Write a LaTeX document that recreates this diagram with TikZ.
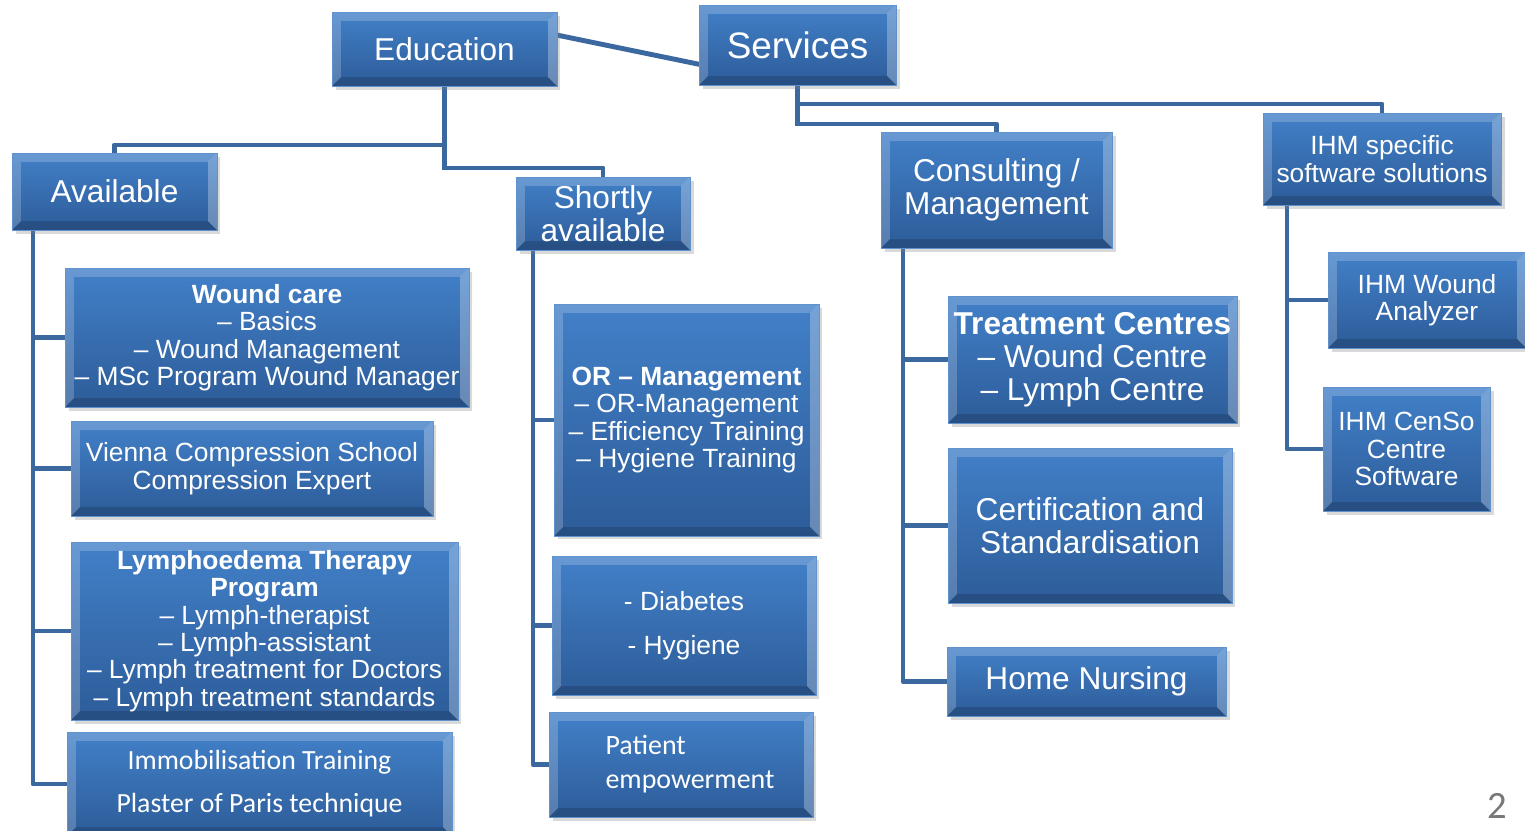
\documentclass[tikz,border=0pt]{standalone}
\usepackage{fontspec}
\setmainfont{Liberation Sans}
\newfontfamily\calibri{Carlito}
\usetikzlibrary{%
   backgrounds,%
   shadows}
\definecolor{boxtop}{RGB}{66,128,200}
\definecolor{boxbot}{RGB}{45,92,153}
\definecolor{boxedge}{RGB}{96,146,206}
\definecolor{linkblue}{RGB}{60,104,160}
\definecolor{pagegray}{RGB}{120,120,120}

\begin{document}
\begin{tikzpicture}
[x=0.02cm, y=-0.02cm,
 bevel/.style={path picture={
   \fill[white,opacity=.2] (path picture bounding box.north west) -- (path picture bounding box.north east)
     -- ([shift={(-5pt,-5pt)}]path picture bounding box.north east)
     -- ([shift={(5pt,-5pt)}]path picture bounding box.north west)
     -- ([shift={(5pt,5pt)}]path picture bounding box.south west)
     -- (path picture bounding box.south west) -- cycle;
   \fill[white,opacity=.28] (path picture bounding box.north east) -- (path picture bounding box.south east)
     -- ([shift={(-5pt,5pt)}]path picture bounding box.south east)
     -- ([shift={(-5pt,-5pt)}]path picture bounding box.north east) -- cycle;
   \fill[black,opacity=.15] (path picture bounding box.south west) -- (path picture bounding box.south east)
     -- ([shift={(-5pt,5pt)}]path picture bounding box.south east)
     -- ([shift={(5pt,5pt)}]path picture bounding box.south west) -- cycle;}},
 typeBox/.style={rectangle,draw=boxedge,line width=.4pt,top color=boxtop,bottom color=boxbot,
   text=white,align=center,inner sep=0pt,
   drop shadow={opacity=.3,shadow xshift=2pt,shadow yshift=-2pt},bevel},
 typeTop/.style={typeBox,font=\fontsize{21pt}{25pt}\selectfont},
 typeHead/.style={typeBox,font=\fontsize{18pt}{18.7pt}\selectfont},
 typeItem/.style={typeBox,font=\fontsize{15pt}{15.6pt}\selectfont},
 typeCal/.style={typeBox,font=\calibri\fontsize{15.8pt}{24.4pt}\selectfont},
 link/.style={line width=2.8pt,draw=linkblue,line join=round,line cap=rect},
 hv link/.style={link, to path={-| (\tikztotarget)}},
 vh link/.style={link, to path={|- (\tikztotarget)}}]
\useasboundingbox (0,0) rectangle (1525,831);
% top level
\node[typeHead, minimum width=4.5cm,  minimum height=1.48cm] (edu)      at ( 444.5, 49  ) {Education};
\node[typeTop,  minimum width=3.94cm, minimum height=1.6cm ] (serv)     at ( 797.5, 45  ) {Services};
% education
\node[typeHead, minimum width=4.1cm,  minimum height=1.54cm] (avail)    at ( 114.5,191.5) {Available};
\node[typeHead, minimum width=3.48cm, minimum height=1.46cm] (short)    at ( 603  ,213.5) {Shortly\\available};
\node[typeItem, minimum width=8.08cm, minimum height=2.78cm] (wound)    at ( 267  ,337.5) {\textbf{Wound care}\\– Basics\\– Wound Management\\– MSc Program Wound Manager};
\node[typeItem, minimum width=7.24cm, minimum height=1.9cm ] (vienna)   at ( 252  ,468.5) {Vienna Compression School\\Compression Expert};
\node[typeItem, minimum width=7.74cm, minimum height=3.56cm] (lymph)    at ( 264.5,631  ) {\textbf{Lymphoedema Therapy}\\\textbf{Program}\\– Lymph-therapist\\– Lymph-assistant\\– Lymph treatment for Doctors\\– Lymph treatment standards};
\node[typeCal,  minimum width=7.7cm,  minimum height=2.08cm] (immob)    at ( 259.5,784  ) {Immobilisation Training\\Plaster of Paris technique};
\node[typeItem, minimum width=5.3cm,  minimum height=4.64cm] (ormgmt)   at ( 686.5,420  ) {\textbf{OR – Management}\\– OR-Management\\– Efficiency Training\\– Hygiene Training};
\node[typeItem, font=\fontsize{15pt}{25pt}\selectfont,
                minimum width=5.28cm, minimum height=2.78cm] (diab)     at ( 684  ,625.5) {- Diabetes\\- Hygiene};
\node[typeCal,  font=\calibri\fontsize{15.9pt}{19.3pt}\selectfont, align=left,
                minimum width=5.28cm, minimum height=2.1cm ] (patient)  at ( 681  ,764.5) {\hspace*{0.36cm}Patient\\\hspace*{0.36cm}empowerment};
% services
\node[typeHead, minimum width=4.62cm, minimum height=2.32cm] (consult)  at ( 996.5,190  ) {Consulting /\\Management};
\node[typeHead, minimum width=5.78cm, minimum height=2.54cm] (treat)    at (1092.5,359.5) {\textbf{Treatment Centres}\\– Wound Centre\\– Lymph Centre};
\node[typeHead, minimum width=5.68cm, minimum height=3.1cm ] (cert)     at (1090  ,525.5) {Certification and\\Standardisation};
\node[typeHead, minimum width=5.58cm, minimum height=1.38cm] (home)     at (1086.5,681.5) {Home Nursing};
\node[typeItem, minimum width=4.76cm, minimum height=1.84cm] (ihm)      at (1382  ,159  ) {IHM specific\\software solutions};
\node[typeItem, minimum width=3.96cm, minimum height=1.92cm] (analyzer) at (1427  ,300  ) {IHM Wound\\Analyzer};
\node[typeItem, minimum width=3.34cm, minimum height=2.48cm] (censo)    at (1406.5,449  ) {IHM CenSo\\Centre\\Software};
\node[text=pagegray, font=\calibri\fontsize{22pt}{24pt}\selectfont] (pagenum) at (1497,806) {2};
\coordinate (eduHop1)    at ( 444.5,145);
\coordinate (eduHop2)    at ( 444.5,168);
\coordinate (servHop1)   at ( 797.5,104);
\coordinate (servHop2)   at ( 797.5,124);
\coordinate (availStart) at (  33  ,230);
\coordinate (shortStart) at ( 533  ,250);
\coordinate (consStart)  at ( 903  ,248);
\coordinate (ihmStart)   at (1287  ,205);
\begin{scope}[on background layer]
\path (edu.7)        edge[link]    (serv.191)
      (edu.south)    edge[vh link] (eduHop2)
      (eduHop1)      edge[hv link] (avail.north)
      (eduHop2)      edge[hv link] (short.north)
      (serv.south)   edge[vh link] (servHop2)
      (servHop1)     edge[hv link] (ihm.north)
      (servHop2)     edge[hv link] (consult.north)
      (availStart)   edge[vh link] (wound.west)
                     edge[vh link] (vienna.west)
                     edge[vh link] (lymph.west)
                     edge[vh link] (immob.west)
      (shortStart)   edge[vh link] (ormgmt.west)
                     edge[vh link] (diab.west)
                     edge[vh link] (patient.west)
      (consStart)    edge[vh link] (treat.west)
                     edge[vh link] (cert.west)
                     edge[vh link] (home.west)
      (ihmStart)     edge[vh link] (analyzer.west)
                     edge[vh link] (censo.west);
\end{scope}
\end{tikzpicture}
\end{document}
